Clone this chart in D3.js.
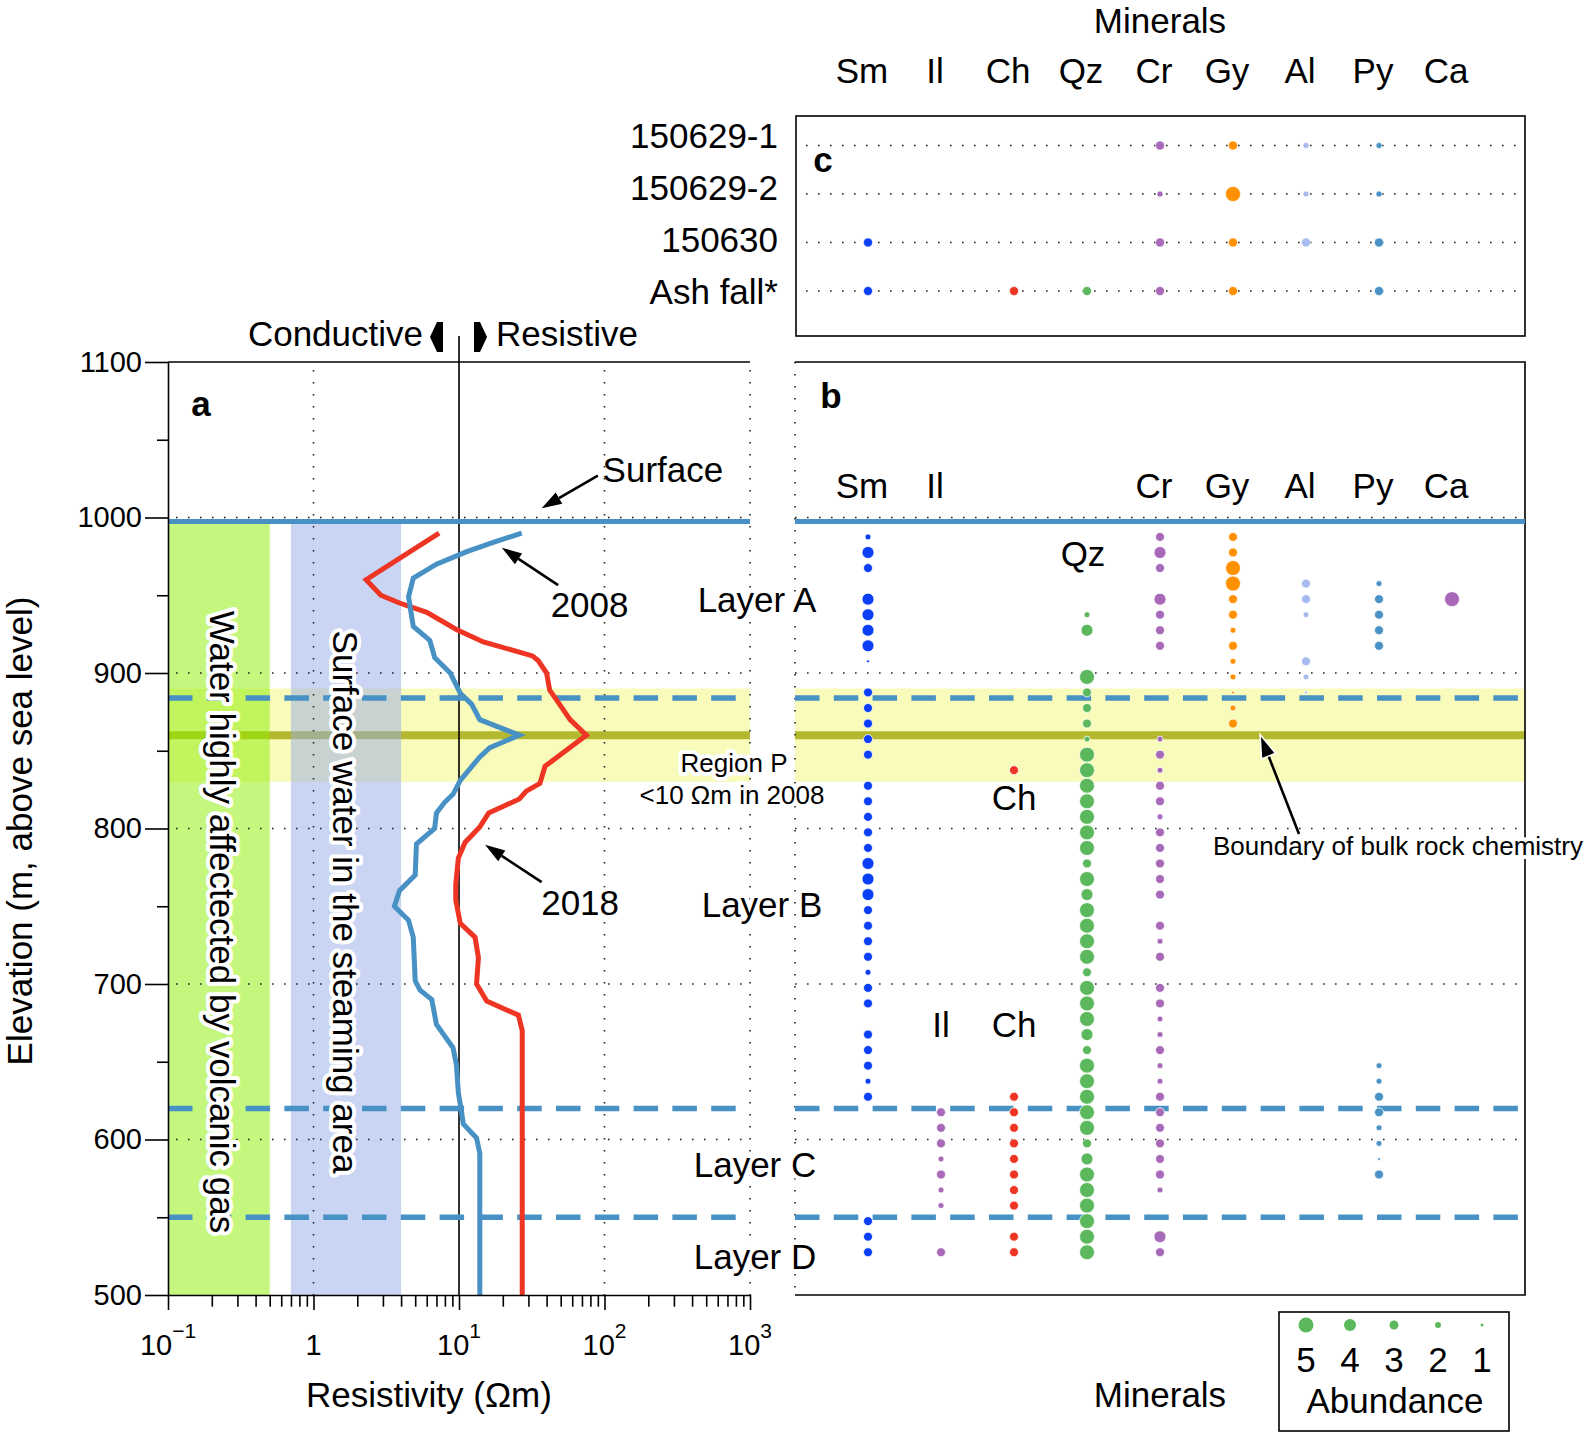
<!DOCTYPE html>
<html><head><meta charset="utf-8">
<script src="https://cdn.jsdelivr.net/npm/d3@7"></script>
<style>
body{margin:0;background:#fff;}
svg{display:block;font-family:"Liberation Sans",Arial,Helvetica,sans-serif;}
.halo{paint-order:stroke;stroke:#fff;stroke-width:8px;stroke-linejoin:round;}
</style></head><body>
<svg id="chart" width="1594" height="1432"></svg>
<script>
// ---------------- DATA ----------------
const minerals = ["Sm","Il","Ch","Qz","Cr","Gy","Al","Py","Ca"];
const mineralColors = ["#0a3ff5","#a869b8","#ee3524","#5cb85c","#a869b8","#ff9000","#a9baf0","#4a92c6","#a869b8"];

const sampleElevations = [987.5,977.5,967.5,957.5,947.5,937.5,927.5,917.5,907.5,897.5,
  887.5,877.5,867.5,857.5,847.5,837.5,827.5,817.5,807.5,797.5,
  787.5,777.5,767.5,757.5,747.5,737.5,727.5,717.5,707.5,697.5,
  687.5,677.5,667.5,657.5,647.5,637.5,627.5,617.5,607.5,597.5,
  587.5,577.5,567.5,557.5,547.5,537.5,527.5];

const abundanceSm = [2,4,3,0,4,4,4,4,1,0, 3,3,3,3,3,0,3,3,3,3, 3,4,4,4,3,3,3,3,2,3, 3,0,3,3,3,2,3,0,0,0, 0,0,0,0,3,3,3];
const abundanceIl = [0,0,0,0,0,0,0,0,0,0, 0,0,0,0,0,0,0,0,0,0, 0,0,0,0,0,0,0,0,0,0, 0,0,0,0,0,0,0,3,3,3, 2,3,2,2,0,0,3];
const abundanceCh = [0,0,0,0,0,0,0,0,0,0, 0,0,0,0,0,3,0,0,0,0, 0,0,0,0,0,0,0,0,0,0, 0,0,0,0,0,0,3,3,3,3, 3,3,3,3,0,3,3];
const abundanceQz = [0,0,0,0,0,2,4,0,0,5, 3,3,3,2,5,5,5,5,5,5, 5,3,5,4,5,5,5,5,3,5, 5,5,4,3,5,5,5,5,5,3, 4,5,5,5,5,5,5];
const abundanceCr = [3,4,3,0,4,3,3,3,0,0, 0,0,0,2,3,2,3,3,2,3, 3,3,3,3,0,3,2,3,0,3, 3,2,2,3,2,2,3,3,3,3, 3,3,2,0,0,4,3];
const abundanceGy = [3,3,5,5,3,3,2,3,2,2, 1,2,3,0,0,0,0,0,0,0, 0,0,0,0,0,0,0,0,0,0, 0,0,0,0,0,0,0,0,0,0, 0,0,0,0,0,0,0];
const abundanceAl = [0,0,0,3,3,2,0,0,3,2, 1,0,0,0,0,0,0,0,0,0, 0,0,0,0,0,0,0,0,0,0, 0,0,0,0,0,0,0,0,0,0, 0,0,0,0,0,0,0];
const abundancePy = [0,0,0,2,3,3,3,3,0,0, 0,0,0,0,0,0,0,0,0,0, 0,0,0,0,0,0,0,0,0,0, 0,0,0,0,2,2,3,3,2,2, 1,3,0,0,0,0,0];
const abundanceCa = [0,0,0,0,5,0,0,0,0,0, 0,0,0,0,0,0,0,0,0,0, 0,0,0,0,0,0,0,0,0,0, 0,0,0,0,0,0,0,0,0,0, 0,0,0,0,0,0,0];

const ashSamples = ["150629-1","150629-2","150630","Ash fall*"];
const ashSm = [0,0,3,3];
const ashIl = [0,0,0,0];
const ashCh = [0,0,0,3];
const ashQz = [0,0,0,3];
const ashCr = [3,2,3,3];
const ashGy = [3,5,3,3];
const ashAl = [2,2,3,0];
const ashPy = [2,2,3,3];
const ashCa = [0,0,0,0];

const elev2008 = [990,984,978,970,961,949,930,921,910,900,887,880,870,860,852,846,831,822,817,810,800,790,770,760,750,741,730,702,696,690,674,659,648,630,618,610,601,591,500];
const res2008  = [27,17.2,11.3,7.0,4.85,4.5,4.85,6.3,6.8,8.7,10.2,12.2,13.9,26,16.3,13.9,10.2,9.1,8.0,7.0,6.8,5.1,5.0,3.9,3.6,4.5,4.85,5.0,5.4,6.5,7.0,9.1,9.6,9.9,10.4,10.7,13.2,13.9,13.9];
const elev2018 = [990,960,950,945,939,928,920,911,908,900,889,880,870,860,840,829,824,819,810,801,791,781,764,754,739,730,717,700,689,680,670,500];
const res2018  = [7.3,2.3,2.9,3.9,6.0,9.6,14.7,32,35,40,42,49,58,75,39,36,29,26,16,13.9,11,9.9,9.5,9.5,10.2,12.9,13.6,13.2,15.5,25.6,27.2,27.2];

const elevTicks = [500,550,600,650,700,750,800,850,900,950,1000,1050,1100];
const elevGrid = [600,700,800,900,1000];
const resMajorTicks = [0.1,1,10,100,1000];
const resTickBase = ["10","1","10","10","10"];
const resTickExp = ["\u22121","","1","2","3"];
const resGrid = [1,100,1000];
const layerBoundaries = [884,620,550];
const surfaceElevation = 997.5;
const chemBoundary = 860;
const regionP = [830,890];
const gasBand = [0.1,0.5];
const waterBand = [0.7,4];
const legendLevels = [5,4,3,2,1];

// ---------------- SETUP ----------------
const svg = d3.select("#chart");
const y = d3.scaleLinear().domain([500,1100]).range([1295,362]);
const x = d3.scaleLog().domain([0.1,1000]).range([168,750]);
const xm = d3.scalePoint().domain(minerals).range([795,1525]).padding(1);
const rad = d3.scaleLinear().domain([0,5]).range([0,7.5]);
const color = d3.scaleOrdinal().domain(minerals).range(mineralColors);
const rowY = d3.scalePoint().domain(ashSamples).range([145.5,291]);
const rowLabelY = d3.scalePoint().domain(ashSamples).range([135,291]);
const A = {x0:168,x1:750}, B = {x0:795,x1:1525};
const BLUE = "#4891c4", OLIVE="#b3b82e", YELLOW="#f9fbbb";
const FONT = 35;
const dot = g => g.attr("stroke","#222").attr("stroke-width",1.6).attr("stroke-dasharray","1.6 10.4").attr("fill","none");

// ---------- Panel A background ----------
const gA = svg.append("g");
gA.append("rect").attr("x",A.x0).attr("width",A.x1-A.x0).attr("y",y(regionP[1])).attr("height",y(regionP[0])-y(regionP[1])).attr("fill",YELLOW);
gA.append("line").attr("x1",A.x0).attr("x2",A.x1).attr("y1",y(chemBoundary)).attr("y2",y(chemBoundary)).attr("stroke",OLIVE).attr("stroke-width",8);
gA.append("rect").attr("x",x(gasBand[0])).attr("width",x(gasBand[1])-x(gasBand[0])).attr("y",y(surfaceElevation)).attr("height",y(500)-y(surfaceElevation)).attr("fill","#8cf000").attr("fill-opacity",0.5);
gA.append("rect").attr("x",x(waterBand[0])).attr("width",x(waterBand[1])-x(waterBand[0])).attr("y",y(surfaceElevation)).attr("height",y(500)-y(surfaceElevation)).attr("fill","#96aae8").attr("fill-opacity",0.5);
// grid
gA.selectAll(".hg").data(elevGrid).join("line").attr("x1",A.x0+8).attr("x2",A.x1).attr("y1",d=>y(d)).attr("y2",d=>y(d)).call(dot);
gA.selectAll(".vg").data(resGrid).join("line").attr("x1",d=>x(d)).attr("x2",d=>x(d)).attr("y1",y(1100)+8).attr("y2",y(500)).call(dot);
// 10 Ohm line
gA.append("line").attr("x1",x(10)).attr("x2",x(10)).attr("y1",336).attr("y2",y(500)).attr("stroke","#000").attr("stroke-width",1.6);
// surface + dashed
gA.append("line").attr("x1",A.x0).attr("x2",A.x1).attr("y1",y(surfaceElevation)).attr("y2",y(surfaceElevation)).attr("stroke",BLUE).attr("stroke-width",5);
gA.selectAll(".dl").data(layerBoundaries).join("line").attr("x1",A.x0).attr("x2",A.x1).attr("y1",d=>y(d)).attr("y2",d=>y(d)).attr("stroke",BLUE).attr("stroke-width",5.5).attr("stroke-dasharray","24.5 14.3");

// curves
const line = d3.line().x(d=>x(d[1])).y(d=>y(d[0]));
gA.append("path").datum(d3.zip(elev2018,res2018)).attr("d",line).attr("fill","none").attr("stroke","#ee3524").attr("stroke-width",5).attr("stroke-linejoin","miter");
gA.append("path").datum(d3.zip(elev2008,res2008)).attr("d",line).attr("fill","none").attr("stroke",BLUE).attr("stroke-width",5).attr("stroke-linejoin","miter");

// vertical band texts
gA.append("text").attr("class","halo").attr("transform",`translate(222,922) rotate(90)`).attr("text-anchor","middle").attr("dominant-baseline","central").attr("font-size",FONT).text("Water highly affectected by volcanic gas");
gA.append("text").attr("class","halo").attr("transform",`translate(345,902) rotate(90)`).attr("text-anchor","middle").attr("dominant-baseline","central").attr("font-size",FONT).text("Surface water in the steaming area");

// axes
const yAxis = d3.axisLeft(y).tickValues(elevTicks).tickSize(23).tickSizeOuter(0).tickPadding(3).tickFormat(d=>d%100===0?d:"");
const gy = svg.append("g").attr("transform",`translate(${A.x0},0)`).call(yAxis);
gy.selectAll(".tick line").attr("x2",d=>d%100===0?-23:-11).attr("stroke-width",1.6);
gy.select(".domain").attr("stroke-width",1.6);
gy.selectAll("text").attr("font-size",29).attr("font-family","Liberation Sans, Arial, sans-serif").attr("fill","#000");

const xAxis = d3.axisBottom(x).tickValues(x.ticks()).tickSize(15).tickSizeOuter(0).tickFormat("");
const gx = svg.append("g").attr("transform",`translate(0,${y(500)})`).call(xAxis);
gx.selectAll(".tick line").attr("y2",d=>resMajorTicks.some(m=>Math.abs(m-d)<1e-9)?15:11.7).attr("stroke-width",1.6);
gx.select(".domain").attr("stroke-width",1.6);
const xl = svg.append("g").attr("font-size",29);
resMajorTicks.forEach((v,i)=>{
  const t = xl.append("text").attr("x",x(v)).attr("y",y(500)+60).attr("text-anchor","middle");
  t.append("tspan").text(resTickBase[i]);
  if(resTickExp[i]) t.append("tspan").attr("font-size",21).attr("dy",-17).text(resTickExp[i]);
});
// top border of panel a
svg.append("line").attr("x1",A.x0).attr("x2",A.x1).attr("y1",y(1100)).attr("y2",y(1100)).attr("stroke","#000").attr("stroke-width",1.6);

// axis titles
svg.append("text").attr("transform","translate(19,831) rotate(-90)").attr("text-anchor","middle").attr("dominant-baseline","central").attr("font-size",FONT).text("Elevation (m, above sea level)");
svg.append("text").attr("x",429).attr("y",1407).attr("text-anchor","middle").attr("font-size",FONT).text("Resistivity (\u03A9m)");

// Conductive / Resistive
svg.append("text").attr("x",423).attr("y",346).attr("text-anchor","end").attr("font-size",FONT).text("Conductive");
svg.append("text").attr("x",496).attr("y",346).attr("text-anchor","start").attr("font-size",FONT).text("Resistive");
svg.append("path").attr("d","M430,337 L437,322 L443,322 L443,352 L437,352 Z").attr("fill","#000");
svg.append("path").attr("d","M487,337 L480,322 L474,322 L474,352 L480,352 Z").attr("fill","#000");

// ---------- Panel B ----------
const gB = svg.append("g");
gB.append("rect").attr("x",B.x0).attr("width",B.x1-B.x0).attr("y",y(regionP[1])).attr("height",y(regionP[0])-y(regionP[1])).attr("fill",YELLOW);
gB.append("line").attr("x1",B.x0).attr("x2",B.x1).attr("y1",y(chemBoundary)).attr("y2",y(chemBoundary)).attr("stroke",OLIVE).attr("stroke-width",8);
gB.selectAll(".hg").data(elevGrid).join("line").attr("x1",B.x0).attr("x2",B.x1).attr("y1",d=>y(d)).attr("y2",d=>y(d)).call(dot);
gB.append("line").attr("x1",B.x0).attr("x2",B.x0).attr("y1",y(1100)).attr("y2",y(500)).call(dot);
gB.append("path").attr("d",`M${B.x0},${y(1100)} H${B.x1} V${y(500)} H${B.x0}`).attr("fill","none").attr("stroke","#000").attr("stroke-width",1.6);
gB.append("line").attr("x1",B.x0).attr("x2",B.x1).attr("y1",y(surfaceElevation)).attr("y2",y(surfaceElevation)).attr("stroke",BLUE).attr("stroke-width",5);
gB.selectAll(".dl").data(layerBoundaries).join("line").attr("x1",B.x0).attr("x2",B.x1).attr("y1",d=>y(d)).attr("y2",d=>y(d)).attr("stroke",BLUE).attr("stroke-width",5.5).attr("stroke-dasharray","24.5 14.3");

const abundance = [abundanceSm,abundanceIl,abundanceCh,abundanceQz,abundanceCr,abundanceGy,abundanceAl,abundancePy,abundanceCa];
const pts = [];
minerals.forEach((m,k)=>abundance[k].forEach((lv,i)=>{ if(lv>0) pts.push({m,e:sampleElevations[i],lv}); }));
gB.selectAll("circle.s").data(pts).join("circle").attr("cx",d=>xm(d.m)).attr("cy",d=>y(d.e)).attr("r",d=>rad(d.lv)).attr("fill",d=>color(d.m)).attr("stroke","#fff").attr("stroke-width",0.8);

// panel b mineral labels
const headTop = ["Sm","Il","Cr","Gy","Al","Py","Ca"];
gB.selectAll(".hb").data(headTop).join("text").attr("x",d=>xm(d)-6).attr("y",498).attr("text-anchor","middle").attr("font-size",FONT).text(d=>d);
gB.append("text").attr("x",xm("Qz")-4).attr("y",566).attr("text-anchor","middle").attr("font-size",FONT).text("Qz");
gB.append("text").attr("x",xm("Ch")).attr("y",810).attr("text-anchor","middle").attr("font-size",FONT).text("Ch");
gB.append("text").attr("x",xm("Il")).attr("y",1037).attr("text-anchor","middle").attr("font-size",FONT).text("Il");
gB.append("text").attr("x",xm("Ch")).attr("y",1037).attr("text-anchor","middle").attr("font-size",FONT).text("Ch");

// ---------- Panel C ----------
const gC = svg.append("g");
gC.append("rect").attr("x",796).attr("y",116).attr("width",1525-796).attr("height",336-116).attr("fill","none").attr("stroke","#000").attr("stroke-width",1.6);
gC.selectAll(".rl").data(ashSamples).join("line").attr("x1",806).attr("x2",1525).attr("y1",d=>rowY(d)).attr("y2",d=>rowY(d)).call(dot);
const ash = [ashSm,ashIl,ashCh,ashQz,ashCr,ashGy,ashAl,ashPy,ashCa];
const cpts = [];
minerals.forEach((m,k)=>ash[k].forEach((lv,i)=>{ if(lv>0) cpts.push({m,s:ashSamples[i],lv}); }));
gC.selectAll("circle").data(cpts).join("circle").attr("cx",d=>xm(d.m)).attr("cy",d=>rowY(d.s)).attr("r",d=>rad(d.lv)).attr("fill",d=>color(d.m)).attr("stroke","#fff").attr("stroke-width",0.6);
gC.selectAll(".lab").data(ashSamples).join("text").attr("x",778).attr("y",d=>rowLabelY(d)).attr("dy","0.36em").attr("text-anchor","end").attr("font-size",FONT).text(d=>d);
svg.selectAll(".ht").data(minerals).join("text").attr("x",d=>xm(d)-6).attr("y",83).attr("text-anchor","middle").attr("font-size",FONT).text(d=>d);
svg.append("text").attr("x",xm("Cr")).attr("y",33).attr("text-anchor","middle").attr("font-size",FONT).text("Minerals");
svg.append("text").attr("x",xm("Cr")).attr("y",1407).attr("text-anchor","middle").attr("font-size",FONT).text("Minerals");

// panel letters
svg.append("text").attr("x",201).attr("y",416).attr("text-anchor","middle").attr("font-size",FONT).attr("font-weight","bold").text("a");
svg.append("text").attr("x",831).attr("y",408).attr("text-anchor","middle").attr("font-size",FONT).attr("font-weight","bold").text("b");
svg.append("text").attr("x",823).attr("y",172).attr("text-anchor","middle").attr("font-size",FONT).attr("font-weight","bold").text("c");

// ---------- Annotations ----------
function arrow(x1,y1,x2,y2,outline){
  const g = svg.append("g");
  const ang = Math.atan2(y2-y1,x2-x1), L=20, Wd=6.5;
  const bx = x2-L*Math.cos(ang), by = y2-L*Math.sin(ang);
  g.append("line").attr("x1",x1).attr("y1",y1).attr("x2",bx).attr("y2",by).attr("stroke","#000").attr("stroke-width",2.6);
  const p = [[x2,y2],[bx+Wd*Math.sin(ang),by-Wd*Math.cos(ang)],[bx-Wd*Math.sin(ang),by+Wd*Math.cos(ang)]];
  g.append("path").attr("d","M"+p.join("L")+"Z").attr("fill","#000")
    .attr("stroke",outline?"#fff":"none").attr("stroke-width",outline?3:0).style("paint-order","stroke");
}
arrow(x(90),y(1027),x(37),y(1006));
svg.append("text").attr("x",x(252)).attr("y",y(1031)+12.5).attr("text-anchor","middle").attr("font-size",FONT).text("Surface");
arrow(x(48),y(956.5),x(19.7),y(980.5));
svg.append("text").attr("class","halo").attr("x",x(79)).attr("y",y(944)+12.5).attr("text-anchor","middle").attr("font-size",FONT).text("2008");
arrow(x(37),y(765.5),x(15.1),y(789.5));
svg.append("text").attr("class","halo").attr("x",x(68)).attr("y",y(752.7)+12.5).attr("text-anchor","middle").attr("font-size",FONT).text("2018");

const layerNames = ["Layer A","Layer B","Layer C","Layer D"];
const layerLabelX = [757,762,755,755];
const layerLabelElev = [947,751,584,525];
svg.selectAll(".ll").data(layerNames).join("text").attr("class","halo").attr("x",(d,i)=>layerLabelX[i]).attr("y",(d,i)=>y(layerLabelElev[i])+12.5).attr("text-anchor","middle").attr("font-size",FONT).text(d=>d);

svg.append("text").attr("class","halo").attr("x",734).attr("y",y(842.5)+9.5).attr("text-anchor","middle").attr("font-size",26).text("Region P");
svg.append("text").attr("class","halo").attr("x",732).attr("y",y(822)+9.5).attr("text-anchor","middle").attr("font-size",26).text("<10 \u03A9m in 2008");

arrow(1299,y(796.5),1261,y(859),true);
svg.append("text").attr("class","halo").attr("x",1398).attr("y",y(789)+9.5).attr("text-anchor","middle").attr("font-size",26).text("Boundary of bulk rock chemistry");

// ---------- Legend ----------
const gL = svg.append("g");
gL.append("rect").attr("x",1279).attr("y",1312).attr("width",230).attr("height",119).attr("fill","#fff").attr("stroke","#000").attr("stroke-width",1.6);
const lx = d3.scalePoint().domain(legendLevels).range([1306,1482]);
gL.selectAll("circle").data(legendLevels).join("circle").attr("cx",d=>lx(d)).attr("cy",1325).attr("r",d=>rad(d)).attr("fill","#5cb85c");
gL.selectAll("text.n").data(legendLevels).join("text").attr("x",d=>lx(d)).attr("y",1372).attr("text-anchor","middle").attr("font-size",FONT).text(d=>d);
gL.append("text").attr("x",1395).attr("y",1413).attr("text-anchor","middle").attr("font-size",FONT).text("Abundance");
</script>
</body></html>
